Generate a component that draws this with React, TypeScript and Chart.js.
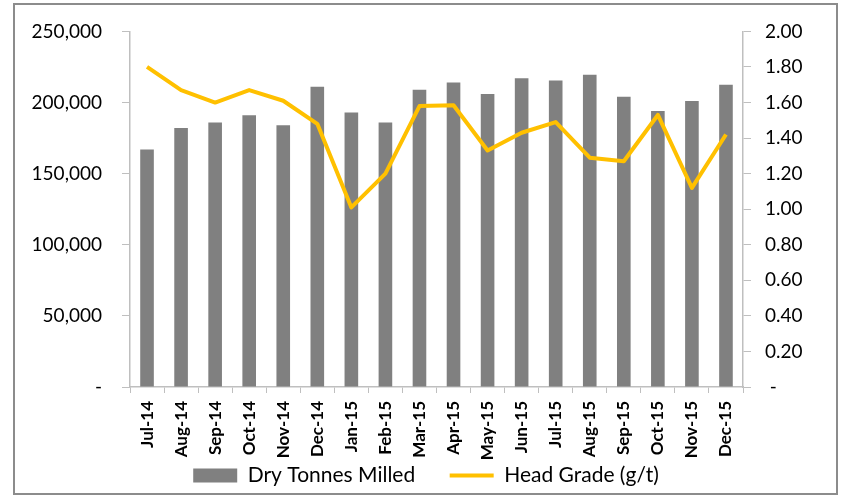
import React, { useEffect, useRef } from "react";
import { Chart, registerables } from "chart.js";

Chart.register(...registerables);

const categories = [
  "Jul-14", "Aug-14", "Sep-14", "Oct-14", "Nov-14", "Dec-14",
  "Jan-15", "Feb-15", "Mar-15", "Apr-15", "May-15", "Jun-15",
  "Jul-15", "Aug-15", "Sep-15", "Oct-15", "Nov-15", "Dec-15",
];

const dryTonnesMilled = [
  167000, 182000, 186000, 191000, 184000, 211000,
  193000, 186000, 209000, 214000, 206000, 217000,
  215500, 219500, 204000, 194000, 201000, 212500,
];

const headGrade = [
  1.80, 1.67, 1.60, 1.67, 1.61, 1.48,
  1.01, 1.20, 1.58, 1.585, 1.33, 1.43,
  1.49, 1.29, 1.27, 1.53, 1.12, 1.42,
];

const leftTicks = { min: 0, max: 250000, step: 50000 };
const rightTicks = { min: 0, max: 2, step: 0.2 };

const FONT = "Lato, 'Liberation Sans', sans-serif";
const AXIS_COLOR = "#bfbfbf";

const frame = {
  id: "frame",
  beforeDraw(chart: any) {
    const ctx = chart.ctx;
    ctx.save();
    ctx.fillStyle = "#ffffff";
    ctx.fillRect(0, 0, chart.width, chart.height);
    ctx.strokeStyle = "#8c8c8c";
    ctx.lineWidth = 2;
    ctx.strokeRect(14, 4, 823, 490);
    ctx.restore();
  },
};

export default function App() {
  const ref = useRef<HTMLCanvasElement>(null);

  useEffect(() => {
    if (!ref.current) return;
    const chart = new Chart(ref.current, {
      type: "bar",
      data: {
        labels: categories,
        datasets: [
          {
            type: "bar",
            label: "Dry Tonnes Milled",
            data: dryTonnesMilled,
            backgroundColor: "#808080",
            borderWidth: 0,
            yAxisID: "y",
            order: 2,
            categoryPercentage: 1,
            barPercentage: 0.4,
          } as any,
          {
            type: "line",
            label: "Head Grade (g/t)",
            data: headGrade,
            borderColor: "#FFC000",
            backgroundColor: "#FFC000",
            borderWidth: 4,
            pointRadius: 0,
            tension: 0,
            borderJoinStyle: "round",
            yAxisID: "y1",
            order: 1,
          } as any,
        ],
      },
      options: {
        animation: false,
        responsive: false,
        devicePixelRatio: 1,
        layout: { padding: { left: 16, right: 5, top: 27, bottom: 0 } },
        plugins: {
          tooltip: { enabled: false },
          legend: {
            position: "bottom",
            labels: {
              font: { family: FONT, size: 21 },
              color: "#000",
              usePointStyle: true,
              pointStyleWidth: 44,
              boxHeight: 14,
              padding: 3,
              generateLabels(chart: any) {
                const items = Chart.defaults.plugins.legend.labels.generateLabels(chart);
                items.sort((a: any, b: any) => a.datasetIndex - b.datasetIndex);
                return items.map((it: any) => {
                  if (it.datasetIndex === 0) {
                    return {
                      ...it,
                      text: it.text + "\u2002\u2002\u2002",
                      pointStyle: "rect",
                      lineWidth: 0,
                      strokeStyle: "#808080",
                      fillStyle: "#808080",
                    };
                  }
                  return { ...it, pointStyle: "line", lineWidth: 4, strokeStyle: "#FFC000", fillStyle: "#FFC000" };
                });
              },
            },
          },
        },
        scales: {
          x: {
            grid: {
              display: true,
              drawOnChartArea: false,
              drawTicks: true,
              tickLength: 6,
              color: AXIS_COLOR,
              offset: true,
            },
            border: { display: true, color: AXIS_COLOR, width: 1.5 },
            ticks: {
              minRotation: 90,
              maxRotation: 90,
              autoSkip: false,
              padding: 8,
              color: "#000",
              font: { family: FONT, size: 17, weight: "bold" },
            },
            afterFit(scale: any) {
              scale.height = 75;
            },
          },
          y: {
            position: "left",
            min: leftTicks.min,
            max: leftTicks.max,
            grid: {
              display: true,
              drawOnChartArea: false,
              drawTicks: true,
              tickLength: 8,
              color: AXIS_COLOR,
            },
            border: { display: true, color: AXIS_COLOR, width: 1.5 },
            ticks: {
              stepSize: leftTicks.step,
              padding: 20,
              color: "#000",
              font: { family: FONT, size: 19 },
              callback: (v: any) => (Number(v) === 0 ? "-" : Number(v).toLocaleString("en-US")),
            },
            afterFit(scale: any) {
              scale.width = 130 - 16;
            },
          },
          y1: {
            position: "right",
            min: rightTicks.min,
            max: rightTicks.max,
            grid: {
              display: true,
              drawOnChartArea: false,
              drawTicks: true,
              tickLength: 8,
              color: AXIS_COLOR,
            },
            border: { display: true, color: AXIS_COLOR, width: 1.5 },
            ticks: {
              stepSize: rightTicks.step,
              padding: 14,
              color: "#000",
              font: { family: FONT, size: 19 },
              callback: (v: any) => (Number(v) === 0 ? " -" : Number(v).toFixed(2)),
            },
            afterFit(scale: any) {
              scale.width = 841 - 5 - 743;
            },
          },
        },
      } as any,
      plugins: [frame],
    });
    return () => chart.destroy();
  }, []);

  return (
    <div style={{ position: "fixed", left: 0, top: 0, width: 841, height: 496 }}>
      <canvas ref={ref} width={841} height={496} style={{ width: 841, height: 496, display: "block" }} />
    </div>
  );
}
